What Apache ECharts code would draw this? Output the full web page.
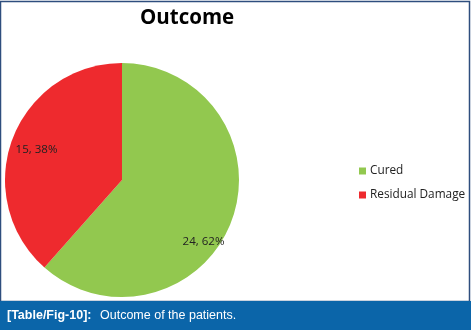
<!DOCTYPE html>
<html><head><meta charset="utf-8">
<script src="https://cdn.jsdelivr.net/npm/echarts@6/dist/echarts.min.js"></script>
<style>html,body{margin:0;padding:0;background:#fff;}#c{width:471px;height:330px;}</style>
</head><body><div id="c"></div>
<script>
const categories = ['Cured', 'Residual Damage'];
const values = [24, 15];
const colors = ['#92C84F', '#EE2A2E'];
const titleText = 'Outcome';
const captionBold = '[Table/Fig-10]:';
const captionText = 'Outcome of the patients.';

const chart = echarts.init(document.getElementById('c'));
chart.setOption({
  animation: false,
  title: { text: titleText, left: 135, top: 3,
    textStyle: { fontFamily: 'Open Sans', fontWeight: 'bold', fontSize: 20.5, color: '#000' } },
  legend: {
    orient: 'vertical', left: 354, top: 160, itemWidth: 7, itemHeight: 7, itemGap: 12,
    icon: 'rect', data: categories,
    textStyle: { fontFamily: 'Open Sans', fontSize: 11.8, color: '#222', padding: [0,0,0,-1] }
  },
  graphic: [
    { type: 'rect', shape: { x: 0.5, y: 1.5, width: 469, height: 300 }, style: { fill: 'none', stroke: '#2E4E7E', lineWidth: 1.5 }, z: 10 },
    { type: 'rect', shape: { x: 0, y: 301, width: 471, height: 29 }, style: { fill: '#0B65A9' }, z: 11 },
    { type: 'text', x: 7, y: 316, style: { text: captionBold, fill: '#fff', font: 'bold 12.5px "Liberation Sans", Arial', verticalAlign: 'middle' }, z: 12 },
    { type: 'text', x: 100, y: 316, style: { text: captionText, fill: '#fff', font: '12.5px "Liberation Sans", Arial', verticalAlign: 'middle' }, z: 12 }
  ],
  series: [{
    type: 'pie', center: [122, 180], radius: [0, 117], startAngle: 90, clockwise: true,
    percentPrecision: 0, silent: true,
    itemStyle: { borderWidth: 0 },
    label: { show: true, position: 'inside', formatter: '{c}, {d}%',
      fontFamily: 'Open Sans', fontSize: 11.5, color: '#222' },
    labelLayout: function (p) { return p.dataIndex === 0 ? { dx: 24, dy: 40 } : { dx: -28, dy: -8 }; },
    data: categories.map((n, i) => ({ name: n, value: values[i], itemStyle: { color: colors[i] } }))
  }]
});
</script></body></html>
